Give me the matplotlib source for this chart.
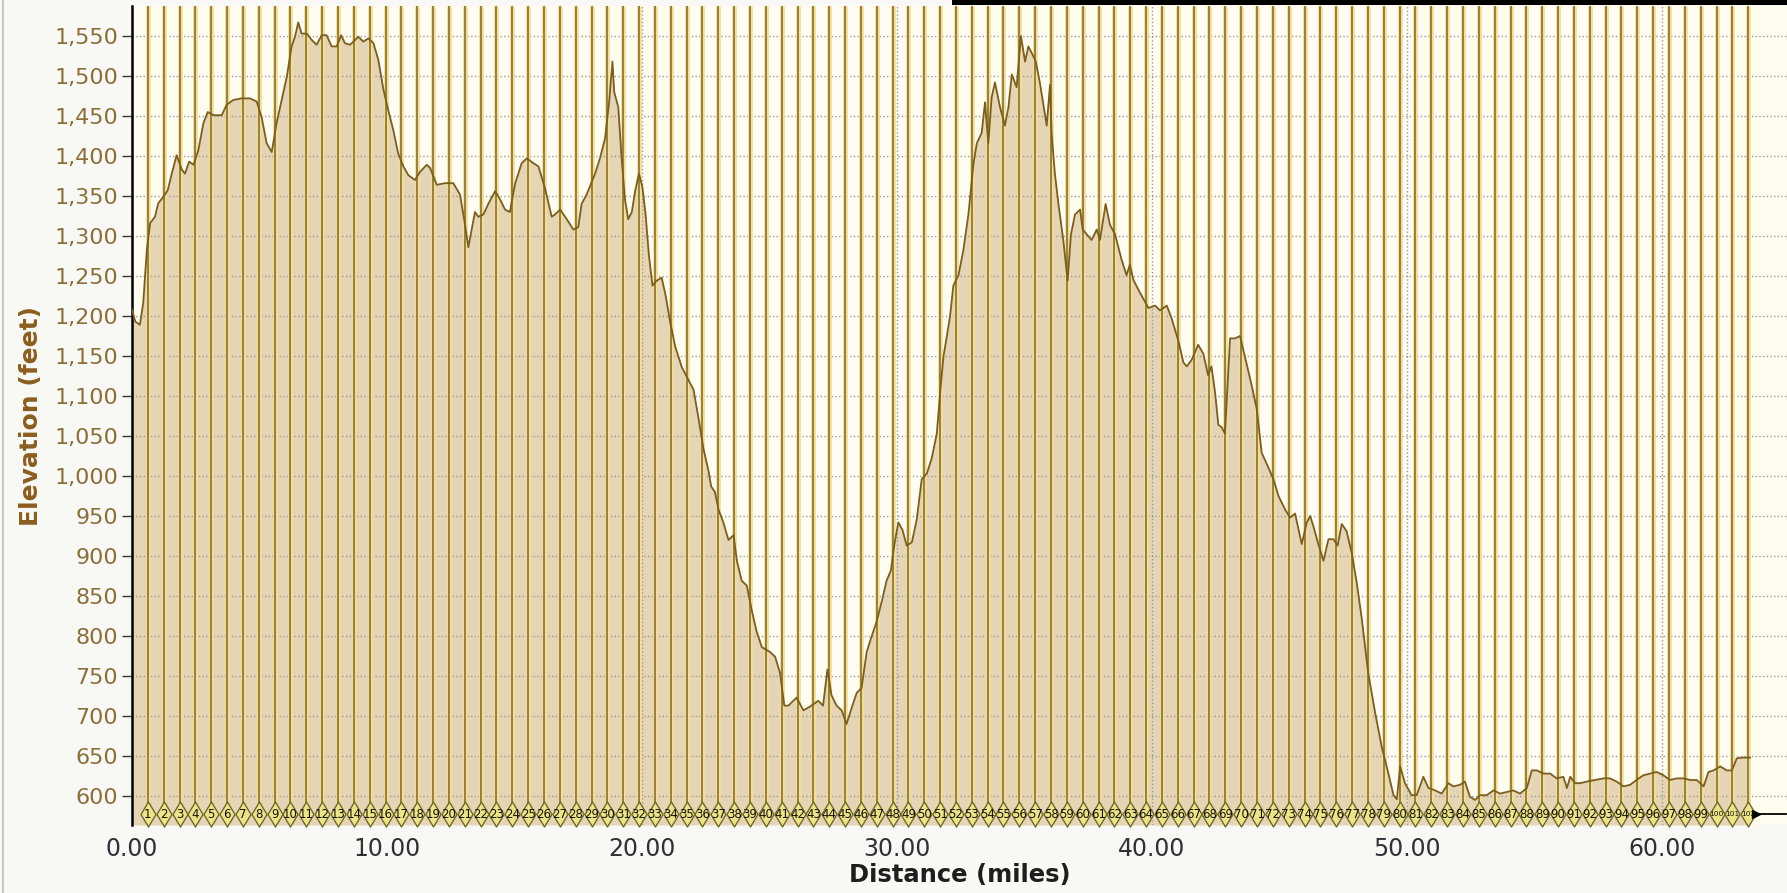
# Elevation profile with kilometre lap markers

import numpy as np
import matplotlib.pyplot as plt
from matplotlib.path import Path
from matplotlib.patches import Rectangle
from matplotlib.lines import Line2D
from matplotlib.ticker import FuncFormatter

# distance (miles) and elevation (feet)
miles = [0.00, 0.13, 0.31, 0.44, 0.58, 0.71, 0.90, 1.03, 1.23, 1.40, 1.56, 1.75, 1.95, 2.08, 2.24,
         2.41, 2.60, 2.80, 2.97, 3.19, 3.52, 3.71, 3.97, 4.30, 4.63, 4.89, 5.08, 5.28, 5.48, 5.67,
         5.87, 6.07, 6.26, 6.39, 6.52, 6.65, 6.85, 7.05, 7.24, 7.44, 7.63, 7.83, 8.03, 8.20, 8.35,
         8.55, 8.75, 8.88, 9.07, 9.27, 9.47, 9.66, 9.86, 10.05, 10.25, 10.44, 10.64, 10.84, 11.10,
         11.29, 11.56, 11.69, 11.95, 12.27, 12.60,
         12.86, 13.06, 13.19, 13.32, 13.45, 13.58, 13.78, 13.97, 14.24, 14.43, 14.63, 14.82, 15.02,
         15.28, 15.48, 15.74, 15.94, 16.20, 16.46, 16.59, 16.79, 17.05, 17.31, 17.50, 17.63, 17.83,
         17.96, 18.16, 18.35, 18.55, 18.71, 18.84, 18.91, 19.07, 19.20, 19.33, 19.46, 19.60, 19.73,
         19.88, 20.01, 20.14, 20.27, 20.41, 20.57, 20.77, 20.93, 21.10, 21.30, 21.56, 21.82, 22.02,
         22.21, 22.41, 22.61, 22.71, 22.86, 23.00, 23.19, 23.39, 23.59, 23.72, 23.91, 24.11, 24.31,
         24.50, 24.70, 25.02, 25.22, 25.41, 25.58, 25.74,
         26.06, 26.33, 26.65, 26.91, 27.10, 27.27, 27.43, 27.63, 27.83, 28.02, 28.22, 28.42, 28.61,
         28.81, 29.00, 29.20, 29.40, 29.59, 29.76, 29.89, 30.05, 30.21, 30.38, 30.58, 30.77, 30.97,
         31.17, 31.36, 31.56, 31.69, 31.82, 31.95, 32.08, 32.21, 32.41, 32.60, 32.80, 33.00, 33.13,
         33.32, 33.45, 33.58, 33.71, 33.84, 34.04, 34.23, 34.37, 34.50, 34.69, 34.86, 35.02, 35.15,
         35.31, 35.44, 35.60, 35.74, 35.87, 36.00, 36.06, 36.19, 36.33, 36.52, 36.69, 36.82, 36.98,
         37.18, 37.28, 37.44, 37.63, 37.83, 37.96, 38.18, 38.35, 38.55,
         38.81, 39.00, 39.13, 39.27, 39.53, 39.86, 40.12, 40.31, 40.58, 40.77, 41.03, 41.23, 41.36,
         41.55, 41.81, 42.01, 42.20, 42.33, 42.47, 42.60, 42.73, 42.86, 43.06, 43.25, 43.45, 43.65,
         43.91, 44.11, 44.30, 44.57, 44.76, 44.96, 45.22, 45.41, 45.61, 45.87, 46.07, 46.20, 46.33,
         46.52, 46.72, 46.92, 47.11, 47.28, 47.44, 47.63, 47.83, 48.03, 48.22, 48.48, 48.75, 49.01,
         49.27, 49.47, 49.60,
         49.73, 49.92, 50.18, 50.38, 50.64, 50.84, 51.10, 51.36, 51.62, 51.82, 52.08, 52.27, 52.47,
         52.67, 52.86, 53.12, 53.39, 53.65, 53.91, 54.17, 54.43, 54.70, 54.89, 55.09, 55.35, 55.61,
         55.87, 56.13, 56.27, 56.40, 56.59, 56.78, 57.05, 57.38, 57.70, 57.96, 58.22, 58.48, 58.75,
         59.00, 59.27, 59.53, 59.79, 60.05, 60.31, 60.58, 60.84, 61.10, 61.36, 61.63, 61.82, 62.02,
         62.28, 62.54, 62.74, 62.93, 63.13, 63.39, 63.45]

elevation = [1208, 1193, 1189, 1216, 1282, 1316, 1324, 1341, 1349, 1357, 1378, 1401, 1383, 1378, 1393,
             1389, 1407, 1441, 1455, 1451, 1451, 1464, 1470, 1472, 1472, 1468, 1449, 1416, 1405, 1441,
             1470, 1499, 1537, 1549, 1567, 1553, 1553, 1545, 1539, 1551, 1551, 1537, 1537, 1551, 1541,
             1539, 1545, 1549, 1543, 1547, 1541, 1520, 1483, 1457, 1432, 1403, 1387, 1376, 1370,
             1380, 1389, 1385, 1364, 1366, 1366,
             1352, 1314, 1286, 1308, 1330, 1324, 1327, 1340, 1356, 1346, 1333, 1330, 1365,
             1391, 1397, 1391, 1387, 1359, 1324, 1327, 1333, 1321, 1308, 1311, 1340, 1352,
             1362, 1378, 1397, 1422, 1467, 1518, 1480, 1461, 1397, 1346, 1321, 1330, 1356,
             1378, 1362, 1327, 1276, 1238, 1244, 1248, 1225, 1193, 1162, 1136, 1120, 1108,
             1073, 1034, 1006, 987, 980, 958, 942, 920, 926, 894, 869, 863, 831,
             805, 786, 780, 774, 754, 713, 713,
             723, 707, 713, 719, 713, 758, 726, 713, 707, 690, 710, 729, 735,
             780, 799, 818, 843, 869, 882, 913, 942, 933, 913, 917, 945, 996,
             1003, 1022, 1053, 1104, 1149, 1174, 1200, 1238, 1251, 1282, 1327, 1391, 1416,
             1429, 1467, 1416, 1473, 1492, 1461, 1438, 1461, 1502, 1486, 1550, 1518, 1537,
             1527, 1518, 1492, 1464, 1438, 1489, 1429, 1378, 1340, 1295, 1244, 1302, 1327,
             1333, 1308, 1302, 1295, 1308, 1295, 1340, 1314, 1302,
             1270, 1251, 1264, 1245, 1229, 1210, 1213, 1207, 1213, 1197, 1169, 1142, 1137,
             1145, 1164, 1153, 1126, 1137, 1105, 1064, 1061, 1053, 1172, 1172, 1175, 1148,
             1113, 1083, 1029, 1010, 996, 975, 958, 948, 953, 915, 942, 950, 937,
             915, 894, 921, 921, 913, 940, 931, 904, 866, 823, 753, 704, 661,
             628, 601, 596,
             637, 616, 601, 601, 624, 610, 607, 603, 616, 612, 614, 618, 599,
             595, 601, 601, 607, 603, 605, 607, 603, 610, 632, 632, 628, 628,
             622, 624, 610, 624, 616, 616, 618, 620, 622, 622, 618, 612, 614,
             620, 626, 628, 630, 626, 620, 622, 622, 620, 620, 612, 630, 632,
             637, 632, 632, 647, 648, 648, 648]

# lap markers every kilometre
laps = list(range(1, 103))
lap_miles = [k * 0.621371 for k in laps]

y_ticks = list(range(600, 1551, 50))
x_ticks = [0, 10, 20, 30, 40, 50, 60]

marker_y = 577
ymin, ymax = 563.75, 1587.5

fig = plt.figure(figsize=(17.87, 8.93), dpi=100, facecolor='#F8F8F4')
ax = fig.add_axes([132 / 1787, 1 - 825 / 893, 1655 / 1787, 819 / 893])
ax.set_facecolor('#FFFCF0')

ax.fill_between(miles, elevation, ymin, color='#E6D5B5', lw=0, zorder=1)
# lap lines: pale gold halo with a darker core
ax.vlines(lap_miles, marker_y, ymax, colors='#F2DD9C', lw=3.4, zorder=2)
ax.vlines(lap_miles, marker_y, ymax, colors='#96803A', lw=1.4, zorder=2.1)
ax.plot(miles, elevation, color='#7B5E1E', lw=1.3, zorder=3)

# diamond lap markers with numbers
diamond = Path([(0, 1), (0.6, 0), (0, -1), (-0.6, 0), (0, 1)],
               [Path.MOVETO, Path.LINETO, Path.LINETO, Path.LINETO, Path.CLOSEPOLY])
ax.plot(lap_miles, [marker_y] * len(laps), ls='none', marker=diamond, ms=18,
        mfc='#EDE48A', mec='#6E6A2E', mew=1.0, zorder=4, clip_on=False)
for k, x in zip(laps, lap_miles):
    ax.text(x, marker_y, str(k), ha='center', va='center',
            fontsize=8.5 if k < 100 else 5.3,
            color='#14140c', zorder=5, clip_on=False)

# end of track
ax.plot([63.7, 64.85], [marker_y, marker_y], color='black', lw=1.3, zorder=4, clip_on=False)
ax.plot([63.7], [marker_y], marker='>', color='black', ms=6, zorder=4, clip_on=False)

ax.set_xlim(0, 64.9)
ax.set_ylim(ymin, ymax)

ax.set_yticks(y_ticks)
ax.yaxis.set_major_formatter(FuncFormatter(lambda v, p: f"{int(v):,}"))
ax.set_xticks(x_ticks)
ax.xaxis.set_major_formatter(FuncFormatter(lambda v, p: f"{v:.2f}"))

ax.tick_params(axis='y', colors='#3a3a3a', labelcolor='#8C6E3A', labelsize=16,
               length=7, width=1.0, direction='out', pad=3)
ax.tick_params(axis='x', length=0, labelcolor='#2f3038', labelsize=17, pad=9)

ax.set_axisbelow('line')
ax.grid(True, color='#9a9a9a', ls=':', lw=1.0)

for side in ['top', 'right', 'bottom']:
    ax.spines[side].set_visible(False)
ax.spines['left'].set_color('black')
ax.spines['left'].set_linewidth(1.8)

ax.set_xlabel('Distance (miles)', fontsize=17.5, fontweight='bold', color='#1e1e1e', labelpad=1)
ax.set_ylabel('Elevation (feet)', fontsize=18, fontweight='bold', color='#8B5E1E', labelpad=8)

# window edge and black strip at the top of the screenshot
fig.add_artist(Rectangle((952 / 1787, 1 - 5 / 893), 1 - 952 / 1787, 5 / 893,
                         transform=fig.transFigure, color='black', lw=0))
fig.add_artist(Line2D([2.5 / 1787, 2.5 / 1787], [0, 1], transform=fig.transFigure,
                      color='#c8c8c8', lw=1.5))

plt.savefig('out.png', dpi=100, facecolor=fig.get_facecolor())
